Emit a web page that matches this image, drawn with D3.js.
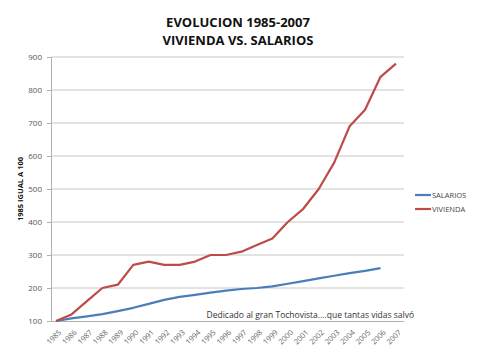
<!DOCTYPE html>
<html><head><meta charset="utf-8">
<script src="https://cdn.jsdelivr.net/npm/d3@7"></script>
<style>body{margin:0;background:#fff}svg{display:block}</style>
</head><body>
<svg id="c" width="480" height="359"></svg>
<script>
const years = ["1985","1986","1987","1988","1989","1990","1991","1992","1993","1994","1995","1996","1997","1998","1999","2000","2001","2002","2003","2004","2005","2006","2007"];
const salarios = [100,108,114,121,130,140,152,164,173,179,186,192,197,200,205,213,221,229,237,245,252,260,null];
const vivienda = [100,120,160,200,210,270,280,270,270,280,300,300,310,330,350,400,440,500,580,690,740,840,880];
const yTicks = [100,200,300,400,500,600,700,800,900];
const seriesNames = ["SALARIOS","VIVIENDA"];
const colors = ["#4a7ebb","#be4b48"];

const svg = d3.select("#c");
const font = "'Open Sans', 'Liberation Sans', sans-serif";
const L = 51, R = 404, T = 57, B = 321;
const x = d3.scaleBand().domain(years).range([48.3, 403.7]);
const y = d3.scaleLinear().domain([100, 900]).range([B, T]);

// gridlines
svg.append("g").selectAll("line").data(yTicks.slice(1)).join("line")
  .attr("x1", L).attr("x2", R).attr("y1", d => y(d)).attr("y2", d => y(d))
  .attr("stroke", "#c8c8c8").attr("stroke-width", 1);

// y axis
const ya = svg.append("g").attr("transform", `translate(${L},0)`)
  .call(d3.axisLeft(y).tickValues(yTicks).tickSize(4).tickPadding(5));
ya.select(".domain").attr("stroke", "#b0b0b0");
ya.selectAll(".tick line").attr("stroke", "#b0b0b0");
ya.selectAll("text").attr("font-family", font).attr("font-size", 8).attr("fill", "#555");

// x axis
const xa = svg.append("g").attr("transform", `translate(0,${B})`)
  .call(d3.axisBottom(x).tickSize(0).tickSizeOuter(0));
xa.select(".domain").attr("stroke", "#b0b0b0").attr("d", `M${L},0.5H${R}`);
xa.selectAll("text").attr("font-family", font).attr("font-size", 7.5).attr("fill", "#666")
  .attr("text-anchor", "end").attr("x", 0).attr("y", 0).attr("dy", "0.35em")
  .attr("transform", "translate(4,10) rotate(-45)");

// lines
const line = d3.line().defined(d => d.v != null)
  .x(d => x(d.k) + x.bandwidth()/2).y(d => y(d.v));
[salarios, vivienda].forEach((s, i) => {
  svg.append("path").datum(years.map((k, j) => ({k, v: s[j]})))
    .attr("d", line).attr("fill", "none").attr("stroke", colors[i])
    .attr("stroke-width", 2.2).attr("stroke-linejoin", "round");
});

// title
const title = svg.append("text").attr("x", 238).attr("text-anchor", "middle")
  .attr("font-family", font).attr("font-weight", "bold").attr("font-size", 13).attr("fill", "#111");
title.append("tspan").attr("x", 238).attr("y", 27).text("EVOLUCION 1985-2007");
title.append("tspan").attr("x", 238).attr("y", 45).text("VIVIENDA VS. SALARIOS");

// y label
svg.append("text").attr("transform", "translate(23,189) rotate(-90)")
  .attr("text-anchor", "middle").attr("font-family", font).attr("font-weight", "bold")
  .attr("font-size", 7.5).attr("fill", "#111").text("1985 IGUAL A 100");

// legend
const lg = svg.append("g");
seriesNames.forEach((n, i) => {
  const yy = 195 + i * 14;
  lg.append("line").attr("x1", 415).attr("x2", 431).attr("y1", yy).attr("y2", yy)
    .attr("stroke", colors[i]).attr("stroke-width", 2.2);
  lg.append("text").attr("x", 432).attr("y", yy + 3).attr("font-family", font)
    .attr("font-size", 7.5).attr("fill", "#444").text(n);
});

// annotation
svg.append("text").attr("x", 414).attr("y", 318).attr("text-anchor", "end")
  .attr("font-family", font).attr("font-size", 8.5).attr("fill", "#333")
  .text("Dedicado al gran Tochovista....que tantas vidas salvó");
</script>
</body></html>
